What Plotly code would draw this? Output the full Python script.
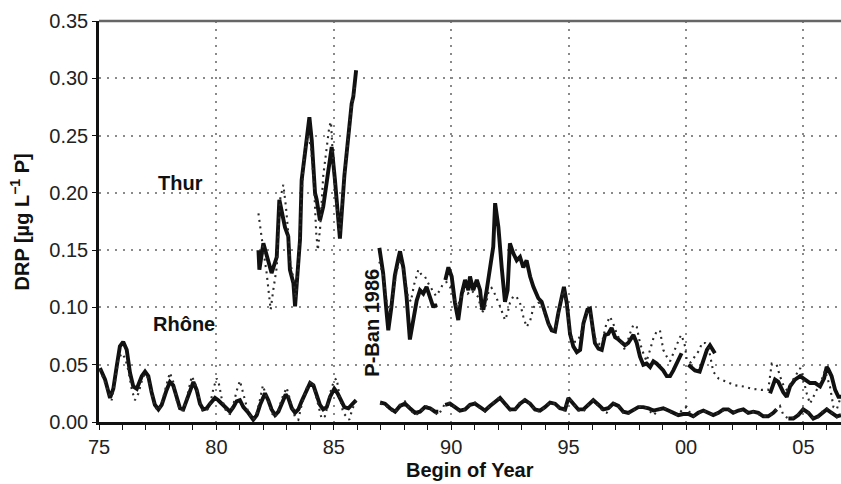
import plotly.graph_objects as go

# Decimal year (1975 = 75) and DRP concentration in mg/L; None breaks a line segment.
thur_obs_year = [
    81.79, 81.83, 82.00, 82.21, 82.35, 82.57, 82.68, 82.92, 83.06, 83.13, 83.28, 83.35,
    83.56, 83.63, 83.85, 83.96, 84.06, 84.20, 84.27, 84.41, 84.55, 84.70, 84.91, 85.05,
    85.19, 85.26, 85.45, 85.62, 85.76, 85.83, 85.90, 85.95, None,
    86.94, 87.10, 87.25, 87.32, 87.45, 87.60, 87.75, 87.82, 87.96, 88.10, 88.24, 88.38,
    88.53, 88.67, 88.81, 88.95, 89.10, 89.24, 89.31, 89.35, None,
    89.75, 89.88, 90.02, 90.16, 90.30, 90.45, 90.59, 90.73, 90.80, 90.94, 91.09, 91.23,
    91.30, 91.37, 91.51, 91.65, 91.79, 91.87, 92.01, 92.15, 92.29, 92.40, 92.50, 92.65,
    92.79, 92.93, 93.07, 93.21, 93.36, 93.50, 93.71, 93.85, 93.99, 94.14, 94.28, 94.42,
    94.56, 94.71, 94.80, 94.92, 95.06, 95.20, 95.35, 95.49, 95.63, 95.80, 95.91, 96.02,
    96.12, 96.27, 96.41, 96.55, 96.69, 96.83, 96.98, 97.12, 97.26, 97.40, 97.54, 97.76,
    97.90, 98.04, 98.18, 98.32, 98.47, 98.61, 98.75, 98.89, 99.03, 99.18, 99.32, 99.46,
    99.60, 99.74, 99.81, None,
    100.10, 100.23, 100.38, 100.58, 100.74, 100.89, 101.02, 101.16, 101.23, None,
    103.58, 103.79, 103.93, 104.14, 104.29, 104.43, 104.64, 104.86, 105.07, 105.28,
    105.50, 105.71, 105.88, 105.99, 106.06, 106.20, 106.35, 106.49, 106.60,
]
thur_obs_drp = [
    0.150, 0.133, 0.156, 0.141, 0.130, 0.144, 0.194, 0.170, 0.162, 0.133, 0.121, 0.101,
    0.159, 0.211, 0.246, 0.266, 0.246, 0.200, 0.194, 0.176, 0.188, 0.211, 0.240, 0.211,
    0.176, 0.160, 0.215, 0.252, 0.278, 0.284, 0.295, 0.307, None,
    0.152, 0.130, 0.095, 0.080, 0.100, 0.128, 0.143, 0.149, 0.135, 0.109, 0.072, 0.090,
    0.106, 0.115, 0.112, 0.118, 0.109, 0.100, 0.103, 0.100, None,
    0.124, 0.135, 0.127, 0.104, 0.089, 0.112, 0.124, 0.115, 0.127, 0.115, 0.124, 0.115,
    0.101, 0.098, 0.115, 0.135, 0.153, 0.191, 0.170, 0.135, 0.105, 0.115, 0.156, 0.147,
    0.141, 0.144, 0.135, 0.141, 0.127, 0.118, 0.108, 0.105, 0.095, 0.086, 0.080, 0.079,
    0.095, 0.112, 0.118, 0.104, 0.077, 0.066, 0.061, 0.063, 0.086, 0.098, 0.099, 0.083,
    0.069, 0.064, 0.063, 0.076, 0.077, 0.082, 0.074, 0.072, 0.069, 0.067, 0.069, 0.076,
    0.069, 0.057, 0.050, 0.051, 0.048, 0.053, 0.051, 0.048, 0.045, 0.040, 0.040, 0.045,
    0.051, 0.057, 0.060, None,
    0.050, 0.048, 0.045, 0.044, 0.053, 0.063, 0.067, 0.063, 0.060, None,
    0.025, 0.037, 0.035, 0.026, 0.022, 0.031, 0.037, 0.040, 0.037, 0.034,
    0.034, 0.031, 0.038, 0.048, 0.046, 0.040, 0.028, 0.022, 0.022,
]

thur_model_year = [
    81.79, 81.86, 82.00, 82.14, 82.25, 82.31, 82.42, 82.57, 82.71, 82.85, 82.96, 83.06,
    83.13, 83.28, 83.38, 83.50, 83.63, 83.75, 83.90, 84.03, 84.15, 84.25, 84.32, 84.42,
    84.55, 84.70, 84.81, 84.88, 84.98, 85.12, 85.26, 85.45, 85.62, 85.76, 85.90, None,
    86.94, 87.10, 87.25, 87.35, 87.50, 87.68, 87.82, 88.00, 88.15, 88.28, 88.42, 88.60,
    88.75, 88.88, 89.05, 89.20, 89.35, 89.52, 89.66, 89.80, 89.95, 90.10, 90.25, 90.40,
    90.55, 90.70, 90.85, 91.00, 91.16, 91.30, 91.45, 91.60, 91.72, 91.85, 92.08, 92.29,
    92.40, 92.50, 92.65, 92.79, 92.93, 93.07, 93.21, 93.36, 93.50, 93.71, 93.85, 93.99,
    94.14, 94.28, 94.42, 94.56, 94.71, 94.80, 94.92, 95.06, 95.20, 95.35, 95.49, 95.63,
    95.80, 95.91, 96.02, 96.15, 96.30, 96.45, 96.60, 96.76, 96.90, 97.05, 97.26, 97.40,
    97.61, 97.76, 97.90, 98.04, 98.18, 98.32, 98.47, 98.61, 98.75, 98.89, 99.03, 99.18,
    99.32, 99.46, 99.60, 99.74, 99.81, 99.96, 100.03, 100.20, 100.40, 100.58, 100.67,
    100.81, 100.95, 101.05, 101.16, 101.38, 101.73, 102.09, 102.44, 102.80, 103.22,
    103.50, 103.65, 103.86, 104.00, 104.15, 104.29, 104.57, 104.86, 105.00, 105.14,
    105.28, 105.43, 105.57, 105.78, 105.92, 106.13, 106.28, 106.42, 106.56,
]
thur_model_drp = [
    0.182, 0.170, 0.150, 0.130, 0.109, 0.098, 0.115, 0.135, 0.194, 0.207, 0.188, 0.165,
    0.141, 0.125, 0.108, 0.140, 0.200, 0.235, 0.250, 0.240, 0.210, 0.165, 0.150, 0.170,
    0.215, 0.240, 0.258, 0.262, 0.223, 0.188, 0.165, 0.215, 0.250, 0.276, 0.292, None,
    0.140, 0.128, 0.105, 0.095, 0.110, 0.132, 0.142, 0.130, 0.110, 0.105, 0.120, 0.133,
    0.128, 0.127, 0.120, 0.115, 0.110, 0.115, 0.121, 0.122, 0.118, 0.110, 0.100, 0.108,
    0.115, 0.112, 0.115, 0.112, 0.109, 0.095, 0.100, 0.115, 0.117, 0.112, 0.101, 0.089,
    0.095, 0.104, 0.110, 0.109, 0.104, 0.092, 0.083, 0.088, 0.100, 0.104, 0.104, 0.094,
    0.086, 0.081, 0.080, 0.094, 0.110, 0.115, 0.102, 0.078, 0.070, 0.070, 0.075, 0.085,
    0.096, 0.097, 0.083, 0.072, 0.068, 0.072, 0.085, 0.092, 0.086, 0.077, 0.068, 0.063,
    0.077, 0.085, 0.083, 0.069, 0.060, 0.053, 0.063, 0.073, 0.079, 0.080, 0.063, 0.057,
    0.053, 0.060, 0.068, 0.074, 0.076, 0.066, 0.054, 0.052, 0.058, 0.063, 0.069,
    0.069, 0.066, 0.055, 0.044, 0.038, 0.035, 0.032, 0.031, 0.029, 0.028,
    0.028, 0.051, 0.050, 0.040, 0.032, 0.028, 0.037, 0.047, 0.037, 0.025,
    0.016, 0.022, 0.028, 0.037, 0.045, 0.031, 0.013, 0.011, 0.020,
]

rhone_obs_year = [
    75.04, 75.26, 75.47, 75.61, 75.75, 75.89, 76.03, 76.18, 76.32, 76.46, 76.61, 76.82,
    76.96, 77.10, 77.24, 77.38, 77.53, 77.67, 77.88, 78.02, 78.16, 78.31, 78.45, 78.59,
    78.73, 78.88, 79.02, 79.16, 79.30, 79.44, 79.59, 79.73, 79.94, 80.08, 80.23, 80.44,
    80.58, 80.72, 80.86, 81.00, 81.15, 81.36, 81.57, 81.72, 81.86, 82.07, 82.21, 82.35,
    82.50, 82.64, 82.78, 82.95, 83.06, 83.21, 83.35, 83.49, 83.63, 83.85, 83.99, 84.13,
    84.27, 84.41, 84.55, 84.70, 84.84, 85.02, 85.16, 85.31, 85.45, 85.62, 85.76, 85.95, None,
    86.97, 87.18, 87.39, 87.61, 87.82, 88.03, 88.24, 88.46, 88.67, 88.88, 89.10, 89.31,
    89.45, None,
    89.74, 89.95, 90.16, 90.37, 90.59, 90.80, 91.01, 91.23, 91.44, 91.65, 91.87, 92.08,
    92.29, 92.50, 92.72, 92.93, 93.14, 93.36, 93.57, 93.78, 93.99, 94.21, 94.42, 94.63,
    94.85, 94.99, 95.20, 95.41, 95.63, 95.84, 96.05, 96.27, 96.48, 96.69, 96.90, 97.12,
    97.33, 97.54, 97.76, 97.97, 98.18, 98.40, 98.61, 98.82, 99.03, 99.25, 99.46, 99.67,
    99.88, 100.10, 100.31, 100.52, 100.74, 100.95, 101.16, 101.38, 101.59, 101.80, 102.01,
    102.23, 102.44, 102.65, 102.87, 103.08, 103.29, 103.50, 103.72, 103.86, None,
    104.36, 104.57, 104.78, 104.99, 105.21, 105.42, 105.63, 105.84, 105.99, 106.20, 106.42,
    106.60,
]
rhone_obs_drp = [
    0.047, 0.037, 0.021, 0.029, 0.048, 0.066, 0.070, 0.063, 0.043, 0.031, 0.029, 0.040,
    0.044, 0.040, 0.026, 0.015, 0.011, 0.015, 0.028, 0.035, 0.032, 0.021, 0.012, 0.011,
    0.019, 0.029, 0.035, 0.028, 0.016, 0.011, 0.012, 0.016, 0.021, 0.019, 0.016, 0.011,
    0.009, 0.013, 0.018, 0.019, 0.013, 0.008, 0.002, 0.006, 0.015, 0.025, 0.019, 0.011,
    0.006, 0.009, 0.016, 0.024, 0.021, 0.012, 0.008, 0.011, 0.018, 0.028, 0.034, 0.032,
    0.024, 0.015, 0.011, 0.013, 0.022, 0.029, 0.025, 0.018, 0.013, 0.012, 0.015, 0.019, None,
    0.017, 0.016, 0.012, 0.009, 0.014, 0.016, 0.012, 0.008, 0.009, 0.013, 0.012, 0.009,
    0.009, None,
    0.015, 0.016, 0.013, 0.010, 0.011, 0.015, 0.016, 0.013, 0.010, 0.014, 0.018, 0.021,
    0.016, 0.011, 0.011, 0.016, 0.019, 0.016, 0.011, 0.010, 0.013, 0.017, 0.016, 0.012,
    0.011, 0.021, 0.016, 0.011, 0.011, 0.015, 0.019, 0.015, 0.011, 0.012, 0.016, 0.014,
    0.009, 0.008, 0.011, 0.013, 0.013, 0.012, 0.010, 0.011, 0.012, 0.010, 0.008, 0.006,
    0.007, 0.007, 0.005, 0.008, 0.010, 0.008, 0.006, 0.008, 0.011, 0.011, 0.008,
    0.010, 0.011, 0.008, 0.009, 0.008, 0.005, 0.005, 0.008, 0.011, None,
    0.003, 0.003, 0.006, 0.011, 0.008, 0.003, 0.005, 0.009, 0.011, 0.008, 0.005,
    0.006,
]

rhone_model_year = [
    75.04, 75.26, 75.40, 75.54, 75.68, 75.82, 75.96, 76.11, 76.25, 76.40, 76.53, 76.68,
    76.85, 76.96, 77.10, 77.24, 77.38, 77.53, 77.67, 77.88, 78.02, 78.16, 78.31, 78.45,
    78.59, 78.73, 78.95, 79.09, 79.23, 79.40, 79.59, 79.73, 79.87, 80.01, 80.10, 80.23,
    80.44, 80.58, 80.72, 80.86, 81.00, 81.15, 81.36, 81.57, 81.72, 81.86, 81.98, 82.10,
    82.21, 82.35, 82.50, 82.64, 82.78, 82.99, 83.10, 83.21, 83.35, 83.49, 83.63, 83.85,
    84.06, 84.13, 84.27, 84.41, 84.48, 84.62, 84.75, 84.90, 85.05, 85.12, 85.25, 85.40,
    85.55, 85.66, 85.80, 85.95, None,
    86.97, 87.18, 87.39, 87.61, 87.82, 88.03, 88.24, 88.46, 88.67, 88.88, 89.10, 89.31,
    89.45, 89.74, 89.95, 90.16, 90.37, 90.59, 90.80, 91.01, 91.23, 91.44, 91.65, 91.87,
    92.08, 92.29, 92.50, 92.72, 92.93, 93.14, 93.36, 93.57, 93.78, 93.99, 94.21, 94.42,
    94.63, 94.85, 94.99, 95.20, 95.41, 95.63, 95.84, 96.05, 96.27, 96.48, 96.62, 96.90,
    97.12, 97.33, 97.54, 97.76, 97.97, 98.18, 98.40, 98.61, 98.82, 99.03, 99.25, 99.46,
    99.67, 99.88, 100.03, 100.20, 100.31, 100.52, 100.74, 100.95, 101.16, 101.38, 101.59,
    101.80, 102.01, 102.23, 102.44, 102.65, 102.87, 103.08, 103.29, 103.50, 103.72,
    103.86, 104.00, 104.15, 104.36, 104.57, 104.78, 104.99, 105.21, 105.42, 105.63,
    105.84, 105.99, 106.20, 106.42, 106.60,
]
rhone_model_drp = [
    0.046, 0.034, 0.025, 0.019, 0.035, 0.054, 0.060, 0.056, 0.045, 0.028, 0.019, 0.025,
    0.038, 0.042, 0.038, 0.024, 0.013, 0.010, 0.016, 0.033, 0.043, 0.035, 0.019, 0.010,
    0.010, 0.020, 0.040, 0.034, 0.022, 0.010, 0.010, 0.015, 0.029, 0.038, 0.034, 0.020,
    0.008, 0.007, 0.015, 0.027, 0.036, 0.025, 0.008, 0.002, 0.008, 0.020, 0.032, 0.024,
    0.018, 0.008, 0.004, 0.010, 0.020, 0.030, 0.022, 0.012, 0.004, 0.002, 0.015, 0.030,
    0.036, 0.032, 0.020, 0.008, 0.003, 0.005, 0.015, 0.030, 0.037, 0.038, 0.022, 0.008,
    0.004, 0.002, 0.012, 0.018, None,
    0.016, 0.015, 0.011, 0.008, 0.015, 0.018, 0.011, 0.006, 0.008, 0.014, 0.013, 0.008,
    0.006, 0.016, 0.017, 0.013, 0.009, 0.011, 0.015, 0.017, 0.012, 0.009, 0.014, 0.018,
    0.022, 0.016, 0.010, 0.010, 0.017, 0.020, 0.016, 0.010, 0.009, 0.013, 0.017, 0.016,
    0.011, 0.010, 0.022, 0.016, 0.010, 0.009, 0.015, 0.019, 0.014, 0.009, 0.008, 0.017,
    0.014, 0.008, 0.007, 0.010, 0.013, 0.014, 0.011, 0.006, 0.010, 0.013, 0.010, 0.007,
    0.006, 0.012, 0.013, 0.007, 0.005, 0.007, 0.010, 0.008, 0.006, 0.008, 0.010,
    0.011, 0.008, 0.010, 0.010, 0.008, 0.009, 0.007, 0.005, 0.005, 0.008,
    0.011, 0.014, 0.006, 0.003, 0.004, 0.007, 0.011, 0.008, 0.003, 0.004,
    0.010, 0.012, 0.008, 0.004, 0.006,
]

year_ticks = [75, 80, 85, 90, 95, 100, 105]
year_tick_text = ["75", "80", "85", "90", "95", "00", "05"]
drp_ticks = [0.00, 0.05, 0.10, 0.15, 0.20, 0.25, 0.30, 0.35]

X_RANGE = [75, 106.6]
Y_RANGE = [0, 0.35]
FONT = "Liberation Sans, Arial, sans-serif"
INK = "#111111"
GRID = "#8a8a8a"

fig = go.Figure()

solid = dict(color=INK, width=3.9)
dotted = dict(color="#2a2a2a", width=2.1, dash="2px,4.5px")

for xs, ys in [(thur_obs_year, thur_obs_drp), (rhone_obs_year, rhone_obs_drp)]:
    fig.add_trace(go.Scatter(x=xs, y=ys, mode="lines", line=solid,
                             connectgaps=False, hoverinfo="skip"))
for xs, ys in [(thur_model_year, thur_model_drp), (rhone_model_year, rhone_model_drp)]:
    fig.add_trace(go.Scatter(x=xs, y=ys, mode="lines", line=dotted,
                             connectgaps=False, hoverinfo="skip"))

label_font = dict(family=FONT, size=20, color=INK)
annotations = [
    dict(x=78.45, y=0.2085, text="<b>Thur</b>", showarrow=False, font=label_font),
    dict(x=78.6, y=0.0859, text="<b>Rhône</b>", showarrow=False, font=label_font),
    dict(x=86.65, y=0.0863, text="<b>P-Ban 1986</b>", showarrow=False,
         font=label_font, textangle=-90),
    dict(x=-0.1065, y=0.5, xref="paper", yref="paper",
         text="<b>DRP [µg L<sup>−1</sup> P]</b>", showarrow=False,
         font=label_font, textangle=-90, xanchor="center", yanchor="middle"),
    dict(x=0.5, y=-0.12, xref="paper", yref="paper", text="<b>Begin of Year</b>",
         showarrow=False, font=label_font, xanchor="center", yanchor="middle"),
]

fig.update_layout(
    width=841, height=484,
    margin=dict(l=99, r=0, t=21, b=62),
    paper_bgcolor="white", plot_bgcolor="white",
    showlegend=False,
    font=dict(family=FONT, size=20, color=INK),
    annotations=annotations,
    xaxis=dict(
        range=X_RANGE, tickmode="array", tickvals=year_ticks, ticktext=year_tick_text,
        showgrid=True, gridcolor=GRID, gridwidth=1.5, griddash="2px,6px",
        showline=True, linecolor=INK, linewidth=2.5,
        ticks="outside", ticklen=5, tickwidth=1.2, tickcolor=INK,
        minor=dict(dtick=1, tick0=75, ticks="outside", ticklen=5, tickwidth=1.2,
                   tickcolor=INK, showgrid=False),
        zeroline=False, tickfont=dict(size=20, color="#222"),
    ),
    xaxis2=dict(
        range=X_RANGE, overlaying="x", anchor="y", side="bottom",
        tickmode="linear", tick0=75, dtick=1, ticks="inside", ticklen=4,
        tickwidth=1.2, tickcolor=INK, showticklabels=False, showgrid=False,
        showline=False, zeroline=False,
    ),
    yaxis=dict(
        range=Y_RANGE, tickmode="array", tickvals=drp_ticks,
        ticktext=[f"{v:.2f}" for v in drp_ticks],
        showgrid=True, gridcolor=GRID, gridwidth=1.5, griddash="2px,6px",
        showline=True, linecolor=INK, linewidth=2.5,
        ticks="outside", ticklen=4, tickwidth=1.2, tickcolor=INK,
        zeroline=False, tickfont=dict(size=20, color="#222"),
    ),
    shapes=[dict(type="line", xref="paper", yref="paper", x0=0, x1=1, y0=1, y1=1,
                 line=dict(color="#666666", width=2.5))],
)

fig.write_html("out.html")
